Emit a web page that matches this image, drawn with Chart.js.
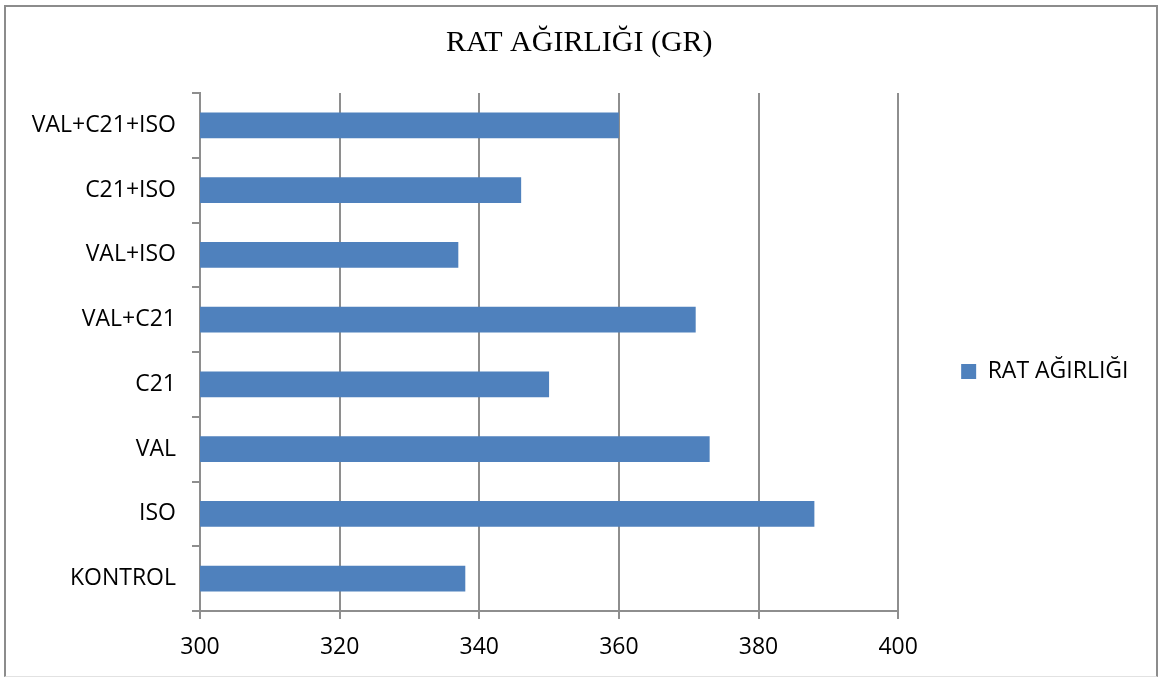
<!DOCTYPE html>
<html>
<head>
<meta charset="utf-8">
<script src="https://cdn.jsdelivr.net/npm/chart.js@4/dist/chart.umd.min.js"></script>
<style>
  html, body { margin: 0; padding: 0; background: #ffffff; overflow: hidden; }
  #wrap { position: relative; width: 1160px; height: 678px; }
  #frame {
    position: absolute; left: 4px; top: 5px; right: 2px; bottom: 1px;
    border: 2px solid #8c8c8c; border-bottom: 1px solid #e2e2e2;
    pointer-events: none; box-sizing: border-box;
  }
  canvas { display: block; }
</style>
</head>
<body>
<div id="wrap">
  <canvas id="chart" width="1160" height="678"></canvas>
  <div id="frame"></div>
</div>
<script>
// Groups, listed top to bottom as they appear on the axis
const categories = ['VAL+C21+ISO', 'C21+ISO', 'VAL+ISO', 'VAL+C21', 'C21', 'VAL', 'ISO', 'KONTROL'];
// Rat weight in grams for each group
const weights = [360, 346, 337, 371, 350, 373, 388, 338];
const seriesName = 'RAT AĞIRLIĞI';
const titleText = 'RAT AĞIRLIĞI (GR)';
// Value axis range and tick step
const axisMin = 300;
const axisMax = 400;
const axisStep = 20;

const BAR_BLUE = '#4f81bd';
const GRID_GRAY = '#8e8e8e';
const SANS = '"Open Sans", "DejaVu Sans", sans-serif';

new Chart(document.getElementById('chart'), {
  type: 'bar',
  data: {
    labels: categories,
    datasets: [{
      label: seriesName,
      data: weights,
      backgroundColor: BAR_BLUE,
      borderWidth: 0,
      barPercentage: 0.4,
      categoryPercentage: 1.0
    }]
  },
  options: {
    indexAxis: 'y',
    responsive: false,
    animation: false,
    devicePixelRatio: 1,
    layout: { padding: { left: 20, right: 21.5, top: 0, bottom: 0 } },
    plugins: {
      tooltip: { enabled: false },
      title: {
        display: true,
        text: titleText,
        color: '#000000',
        font: { family: '"Liberation Serif", "Times New Roman", serif', size: 30, weight: 'normal', lineHeight: 1.2 },
        padding: { top: 25, bottom: 32 }
      },
      legend: {
        display: true,
        position: 'right',
        align: 'center',
        fullSize: false,
        // empty heading only lowers the single entry a little
        title: { display: true, text: '', font: { size: 10, lineHeight: 1 }, padding: { top: 29, bottom: 0 } },
        labels: {
          boxWidth: 15,
          boxHeight: 15,
          padding: 63,
          color: '#000000',
          font: { family: SANS, size: 23 }
        }
      }
    },
    scales: {
      x: {
        type: 'linear',
        min: axisMin,
        max: axisMax,
        ticks: {
          stepSize: axisStep,
          color: '#000000',
          font: { family: SANS, size: 23 },
          padding: 15
        },
        grid: {
          color: GRID_GRAY,
          lineWidth: 2,
          drawTicks: true,
          tickLength: 8,
          tickColor: GRID_GRAY
        },
        border: { display: true, color: GRID_GRAY, width: 2 },
        afterFit(scale) { scale.height = 67; }
      },
      y: {
        type: 'category',
        ticks: {
          color: '#000000',
          font: { family: SANS, size: 23 },
          padding: 16
        },
        grid: {
          display: true,
          drawOnChartArea: false,
          drawTicks: true,
          tickLength: 8,
          offset: true,
          color: GRID_GRAY,
          lineWidth: 2
        },
        border: { display: true, color: GRID_GRAY, width: 2 },
        afterFit(scale) { scale.width = 180; }
      }
    }
  }
});
</script>
</body>
</html>
